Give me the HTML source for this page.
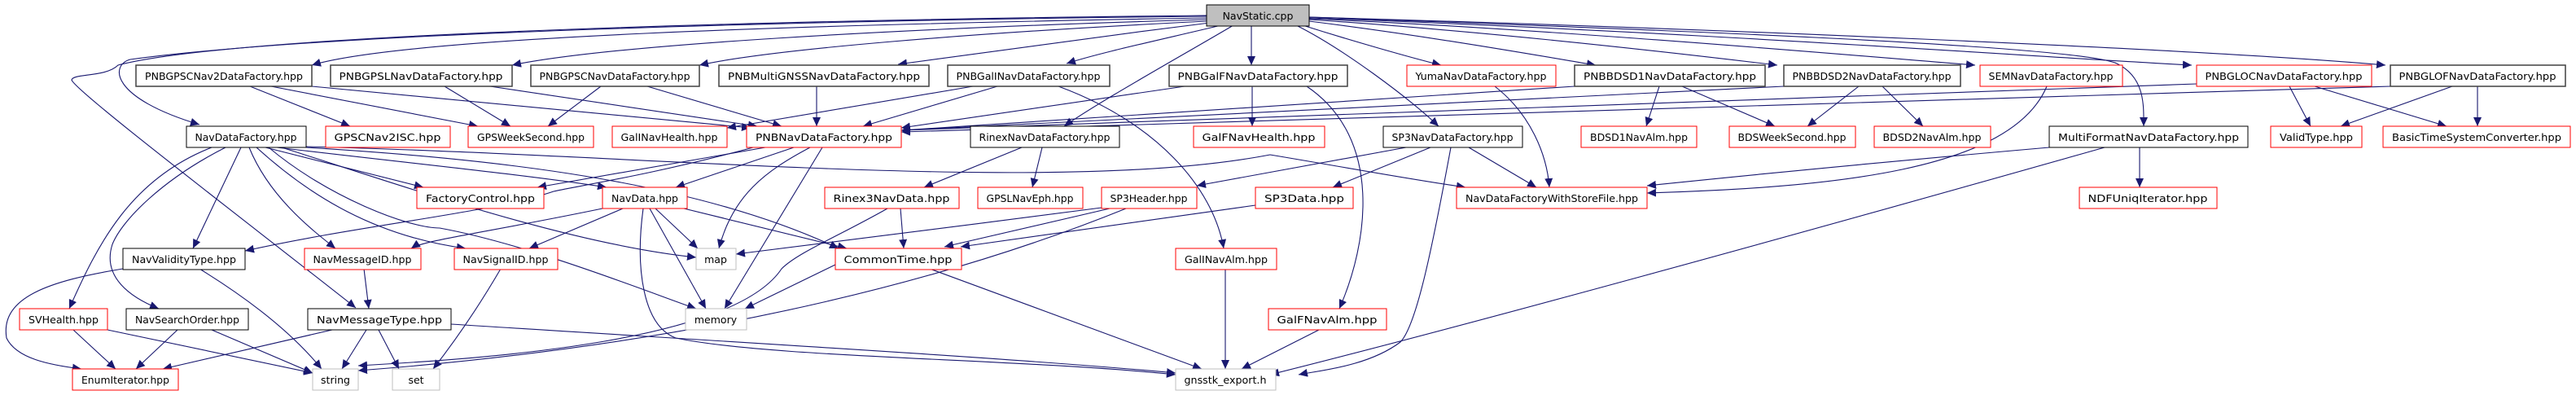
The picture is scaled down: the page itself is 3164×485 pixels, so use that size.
<!DOCTYPE html>
<html><head><meta charset="utf-8"><style>
html,body{margin:0;padding:0;background:#fff;}
svg{display:block;}
text{font-family:"DejaVu Sans","Liberation Sans",sans-serif;font-size:12.5px;fill:#000;}
.e{fill:none;stroke:#191970;stroke-width:1.1;}
.b{fill:#fff;stroke:#000;stroke-width:1;}
.d{fill:#fff;stroke:#404040;stroke-width:1.5;}
.r{fill:#fff;stroke:#ff0000;stroke-width:1;}
.g{fill:#fff;stroke:#bfbfbf;stroke-width:1;}
</style></head><body>
<svg width="3164" height="485" viewBox="0 0 3164 485" xmlns="http://www.w3.org/2000/svg">
<defs><marker id="a" markerUnits="userSpaceOnUse" markerWidth="12" markerHeight="10" refX="11" refY="5" orient="auto"><path d="M0,0 L11,5 L0,10 Z" fill="#191970"/></marker></defs>
<g class="e" marker-end="url(#a)">
<!-- NavStatic edges -->
<path d="M1482,22 C1000,30 500,45 383,80"/>
<path d="M1482,24 C1100,35 750,55 629,80"/>
<path d="M1482,26 C1200,40 950,60 859,80"/>
<path d="M1486,28 C1350,45 1200,65 1103,79"/>
<path d="M1500,31 C1420,50 1350,65 1310,78"/>
<path d="M1537,31 L1537,80"/>
<path d="M1515,31 C1440,75 1350,125 1307,155"/>
<path d="M1592,31 C1650,60 1730,120 1767,155"/>
<path d="M1600,31 C1660,50 1730,70 1770,80"/>
<path d="M1608,26 C1760,45 1900,70 1960,80"/>
<path d="M1608,24 C1850,40 2100,70 2183,80"/>
<path d="M1608,23 C1900,35 2300,70 2426,80"/>
<path d="M1608,21 C2000,35 2550,55 2600,78 C2635,95 2633,130 2633,155"/>
<path d="M1608,22 C2100,40 2500,70 2692,80"/>
<path d="M1608,21 C2100,35 2700,60 2930,80"/>
<path d="M1482,20 C1000,25 400,40 160,73 C135,80 135,120 245,153"/>
<path d="M1482,19 C1000,24 300,40 145,80 C130,95 90,90 88,98 C90,110 300,270 437,378"/>
<!-- row1 to row2 -->
<path d="M307,106 L430,155"/>
<path d="M333,106 L587,155"/>
<path d="M383,106 L922,157"/>
<path d="M546,106 L627,155"/>
<path d="M602,106 L930,155"/>
<path d="M738,106 L673,155"/>
<path d="M795,106 L960,155"/>
<path d="M1003,106 L1003,155"/>
<path d="M1195,106 L893,157"/>
<path d="M1225,106 L1060,155"/>
<path d="M1300,106 C1420,150 1490,230 1503,305"/>
<path d="M1455,106 L1107,157"/>
<path d="M1538,106 L1538,155"/>
<path d="M1605,106 C1700,170 1680,300 1645,379"/>
<path d="M1934,106 L1107,160"/>
<path d="M2038,106 L2022,155"/>
<path d="M2066,106 L2180,155"/>
<path d="M2191,106 L1107,160"/>
<path d="M2283,106 L2220,155"/>
<path d="M2312,106 L2362,155"/>
<path d="M2514,106 C2470,210 2250,230 2023,237"/>
<path d="M2698,103 L1107,160"/>
<path d="M2812,106 L2838,155"/>
<path d="M2843,106 L3005,155"/>
<path d="M2936,106 L1107,162"/>
<path d="M3012,106 L2875,155"/>
<path d="M3043,106 L3043,155"/>
<path d="M1836,106 C1880,140 1900,190 1903,230"/>
<!-- NavDataFactory -->
<path d="M260,181 C160,220 120,300 85,379"/>
<path d="M277,181 C200,220 150,270 138,300 C125,340 160,365 195,379"/>
<path d="M296,181 L237,305"/>
<path d="M306,181 C330,240 380,280 412,305"/>
<path d="M315,181 C380,240 460,290 572,305"/>
<path d="M326,181 L520,230"/>
<path d="M340,181 C500,200 650,215 745,230"/>
<path d="M346,181 C500,230 700,300 855,316"/>
<path d="M330,181 C400,240 500,280 540,280 C650,300 800,360 855,379"/>
<path d="M376,181 C600,195 850,220 1030,305"/>
<path d="M376,180 C800,190 1300,240 1560,190 C1650,205 1730,220 1800,230"/>
<!-- PNBNavDataFactory -->
<path d="M925,181 C800,215 700,230 680,235 C600,262 450,275 301,308"/>
<path d="M940,181 L660,230"/>
<path d="M975,181 L830,230"/>
<path d="M995,181 C940,210 900,240 883,305"/>
<path d="M1010,181 L890,379"/>
<!-- NavData -->
<path d="M740,256 C600,285 520,295 505,305"/>
<path d="M765,256 L650,305"/>
<path d="M805,256 L857,305"/>
<path d="M798,256 L867,379"/>
<path d="M840,256 L1040,305"/>
<path d="M790,256 C780,330 790,400 830,415 C950,440 1250,440 1444,460"/>
<!-- lower -->
<path d="M447,330 L453,379"/>
<path d="M615,330 C580,390 550,430 532,453"/>
<path d="M245,330 C310,370 360,410 395,453"/>
<path d="M151,330 C60,345 0,365 8,415 C20,440 60,448 100,453"/>
<path d="M90,405 L142,453"/>
<path d="M132,405 L384,458"/>
<path d="M218,405 L167,453"/>
<path d="M260,405 L384,458"/>
<path d="M408,405 L200,453"/>
<path d="M450,405 L420,453"/>
<path d="M465,405 L490,453"/>
<path d="M554,398 C900,420 1250,440 1444,458"/>
<path d="M1026,325 L915,379"/>
<path d="M1142,330 L1476,453"/>
<path d="M1106,256 L1110,305"/>
<path d="M1090,256 C1030,290 980,310 960,330 C900,420 600,440 440,449"/>
<path d="M1353,255 C1200,275 1000,300 904,312"/>
<path d="M1363,256 L1160,303"/>
<path d="M1383,256 C1200,330 900,420 440,455"/>
<path d="M1542,252 L1180,303"/>
<path d="M1255,181 L1135,230"/>
<path d="M1280,181 L1268,230"/>
<path d="M1727,181 L1470,228"/>
<path d="M1757,181 L1637,230"/>
<path d="M1804,181 L1887,230"/>
<path d="M1782,181 C1760,300 1740,400 1720,420 C1680,450 1620,455 1595,460"/>
<path d="M2517,181 C2300,200 2100,220 2023,228"/>
<path d="M2628,181 L2628,230"/>
<path d="M2585,181 C2200,290 1800,400 1560,460"/>
<path d="M1505,330 L1505,453"/>
<path d="M1620,405 L1525,453"/>
</g>
<!-- nodes -->
<rect x="1482" y="6" width="126" height="26" fill="#bfbfbf" stroke="#000"/><text x="1545" y="24" text-anchor="middle">NavStatic.cpp</text>

<rect class="d" x="167" y="80" width="216" height="26"/><text x="275" y="98" text-anchor="middle" textLength="194" lengthAdjust="spacingAndGlyphs">PNBGPSCNav2DataFactory.hpp</text>
<rect class="d" x="406" y="80" width="223" height="26"/><text x="517" y="98" text-anchor="middle" textLength="201" lengthAdjust="spacingAndGlyphs">PNBGPSLNavDataFactory.hpp</text>
<rect class="d" x="652" y="80" width="207" height="26"/><text x="755" y="98" text-anchor="middle" textLength="185" lengthAdjust="spacingAndGlyphs">PNBGPSCNavDataFactory.hpp</text>
<rect class="d" x="883" y="80" width="258" height="26"/><text x="1012" y="98" text-anchor="middle" textLength="236" lengthAdjust="spacingAndGlyphs">PNBMultiGNSSNavDataFactory.hpp</text>
<rect class="d" x="1164" y="80" width="199" height="26"/><text x="1263" y="98" text-anchor="middle" textLength="177" lengthAdjust="spacingAndGlyphs">PNBGalINavDataFactory.hpp</text>
<rect class="d" x="1436" y="80" width="219" height="26"/><text x="1545" y="98" text-anchor="middle" textLength="197" lengthAdjust="spacingAndGlyphs">PNBGalFNavDataFactory.hpp</text>
<rect class="r" x="1728" y="80" width="183" height="26"/><text x="1819" y="98" text-anchor="middle" textLength="161" lengthAdjust="spacingAndGlyphs">YumaNavDataFactory.hpp</text>
<rect class="d" x="1934" y="80" width="234" height="26"/><text x="2051" y="98" text-anchor="middle" textLength="212" lengthAdjust="spacingAndGlyphs">PNBBDSD1NavDataFactory.hpp</text>
<rect class="d" x="2191" y="80" width="217" height="26"/><text x="2299" y="98" text-anchor="middle" textLength="195" lengthAdjust="spacingAndGlyphs">PNBBDSD2NavDataFactory.hpp</text>
<rect class="r" x="2432" y="80" width="175" height="26"/><text x="2519" y="98" text-anchor="middle" textLength="153" lengthAdjust="spacingAndGlyphs">SEMNavDataFactory.hpp</text>
<rect class="r" x="2698" y="80" width="215" height="26"/><text x="2805" y="98" text-anchor="middle" textLength="193" lengthAdjust="spacingAndGlyphs">PNBGLOCNavDataFactory.hpp</text>
<rect class="d" x="2936" y="80" width="215" height="26"/><text x="3043" y="98" text-anchor="middle" textLength="193" lengthAdjust="spacingAndGlyphs">PNBGLOFNavDataFactory.hpp</text>

<rect class="b" x="229" y="155" width="147" height="26"/><text x="302" y="173" text-anchor="middle" textLength="125" lengthAdjust="spacingAndGlyphs">NavDataFactory.hpp</text>
<rect class="r" x="400" y="155" width="153" height="26"/><text x="476" y="173" text-anchor="middle" textLength="131" lengthAdjust="spacingAndGlyphs">GPSCNav2ISC.hpp</text>
<rect class="r" x="575" y="155" width="154" height="26"/><text x="652" y="173" text-anchor="middle" textLength="132" lengthAdjust="spacingAndGlyphs">GPSWeekSecond.hpp</text>
<rect class="r" x="752" y="155" width="141" height="26"/><text x="822" y="173" text-anchor="middle" textLength="119" lengthAdjust="spacingAndGlyphs">GalINavHealth.hpp</text>
<rect class="r" x="917" y="155" width="190" height="26"/><text x="1012" y="173" text-anchor="middle" textLength="168" lengthAdjust="spacingAndGlyphs">PNBNavDataFactory.hpp</text>
<rect class="b" x="1192" y="155" width="183" height="26"/><text x="1283" y="173" text-anchor="middle" textLength="161" lengthAdjust="spacingAndGlyphs">RinexNavDataFactory.hpp</text>
<rect class="r" x="1466" y="155" width="161" height="26"/><text x="1546" y="173" text-anchor="middle" textLength="139" lengthAdjust="spacingAndGlyphs">GalFNavHealth.hpp</text>
<rect class="b" x="1699" y="155" width="171" height="26"/><text x="1784" y="173" text-anchor="middle" textLength="149" lengthAdjust="spacingAndGlyphs">SP3NavDataFactory.hpp</text>
<rect class="r" x="1942" y="155" width="142" height="26"/><text x="2013" y="173" text-anchor="middle" textLength="120" lengthAdjust="spacingAndGlyphs">BDSD1NavAlm.hpp</text>
<rect class="r" x="2124" y="155" width="155" height="26"/><text x="2201" y="173" text-anchor="middle" textLength="133" lengthAdjust="spacingAndGlyphs">BDSWeekSecond.hpp</text>
<rect class="r" x="2302" y="155" width="143" height="26"/><text x="2373" y="173" text-anchor="middle" textLength="121" lengthAdjust="spacingAndGlyphs">BDSD2NavAlm.hpp</text>
<rect class="b" x="2517" y="155" width="244" height="26"/><text x="2639" y="173" text-anchor="middle" textLength="222" lengthAdjust="spacingAndGlyphs">MultiFormatNavDataFactory.hpp</text>
<rect class="r" x="2789" y="155" width="112" height="26"/><text x="2845" y="173" text-anchor="middle" textLength="90" lengthAdjust="spacingAndGlyphs">ValidType.hpp</text>
<rect class="r" x="2927" y="155" width="230" height="26"/><text x="3042" y="173" text-anchor="middle" textLength="208" lengthAdjust="spacingAndGlyphs">BasicTimeSystemConverter.hpp</text>

<rect class="r" x="512" y="230" width="156" height="26"/><text x="590" y="248" text-anchor="middle" textLength="134" lengthAdjust="spacingAndGlyphs">FactoryControl.hpp</text>
<rect class="r" x="740" y="230" width="104" height="26"/><text x="792" y="248" text-anchor="middle" textLength="82" lengthAdjust="spacingAndGlyphs">NavData.hpp</text>
<rect class="r" x="1013" y="230" width="165" height="26"/><text x="1095" y="248" text-anchor="middle" textLength="143" lengthAdjust="spacingAndGlyphs">Rinex3NavData.hpp</text>
<rect class="r" x="1201" y="230" width="129" height="26"/><text x="1265" y="248" text-anchor="middle" textLength="107" lengthAdjust="spacingAndGlyphs">GPSLNavEph.hpp</text>
<rect class="r" x="1353" y="230" width="117" height="26"/><text x="1411" y="248" text-anchor="middle" textLength="95" lengthAdjust="spacingAndGlyphs">SP3Header.hpp</text>
<rect class="r" x="1542" y="230" width="120" height="26"/><text x="1602" y="248" text-anchor="middle" textLength="98" lengthAdjust="spacingAndGlyphs">SP3Data.hpp</text>
<rect class="r" x="1789" y="230" width="234" height="26"/><text x="1906" y="248" text-anchor="middle" textLength="212" lengthAdjust="spacingAndGlyphs">NavDataFactoryWithStoreFile.hpp</text>
<rect class="r" x="2554" y="230" width="169" height="26"/><text x="2638" y="248" text-anchor="middle" textLength="147" lengthAdjust="spacingAndGlyphs">NDFUniqIterator.hpp</text>

<rect class="b" x="151" y="305" width="150" height="26"/><text x="226" y="323" text-anchor="middle" textLength="128" lengthAdjust="spacingAndGlyphs">NavValidityType.hpp</text>
<rect class="r" x="374" y="305" width="143" height="26"/><text x="445" y="323" text-anchor="middle" textLength="121" lengthAdjust="spacingAndGlyphs">NavMessageID.hpp</text>
<rect class="r" x="558" y="305" width="127" height="26"/><text x="621" y="323" text-anchor="middle" textLength="105" lengthAdjust="spacingAndGlyphs">NavSignalID.hpp</text>
<rect class="g" x="855" y="305" width="49" height="26"/><text x="879" y="323" text-anchor="middle">map</text>
<rect class="r" x="1026" y="305" width="155" height="26"/><text x="1103" y="323" text-anchor="middle" textLength="133" lengthAdjust="spacingAndGlyphs">CommonTime.hpp</text>
<rect class="r" x="1444" y="305" width="124" height="26"/><text x="1506" y="323" text-anchor="middle" textLength="102" lengthAdjust="spacingAndGlyphs">GalINavAlm.hpp</text>

<rect class="r" x="24" y="379" width="108" height="26"/><text x="78" y="397" text-anchor="middle" textLength="86" lengthAdjust="spacingAndGlyphs">SVHealth.hpp</text>
<rect class="b" x="155" y="379" width="150" height="26"/><text x="230" y="397" text-anchor="middle" textLength="128" lengthAdjust="spacingAndGlyphs">NavSearchOrder.hpp</text>
<rect class="b" x="378" y="379" width="176" height="26"/><text x="466" y="397" text-anchor="middle" textLength="154" lengthAdjust="spacingAndGlyphs">NavMessageType.hpp</text>
<rect class="g" x="842" y="379" width="75" height="26"/><text x="879" y="397" text-anchor="middle">memory</text>
<rect class="r" x="1558" y="379" width="145" height="26"/><text x="1630" y="397" text-anchor="middle" textLength="123" lengthAdjust="spacingAndGlyphs">GalFNavAlm.hpp</text>

<rect class="r" x="89" y="453" width="130" height="26"/><text x="154" y="471" text-anchor="middle" textLength="108" lengthAdjust="spacingAndGlyphs">EnumIterator.hpp</text>
<rect class="g" x="384" y="453" width="56" height="26"/><text x="412" y="471" text-anchor="middle">string</text>
<rect class="g" x="482" y="453" width="58" height="26"/><text x="511" y="471" text-anchor="middle">set</text>
<rect class="g" x="1444" y="453" width="123" height="26"/><text x="1505" y="471" text-anchor="middle" textLength="101" lengthAdjust="spacingAndGlyphs">gnsstk_export.h</text>
</svg>
</body></html>
